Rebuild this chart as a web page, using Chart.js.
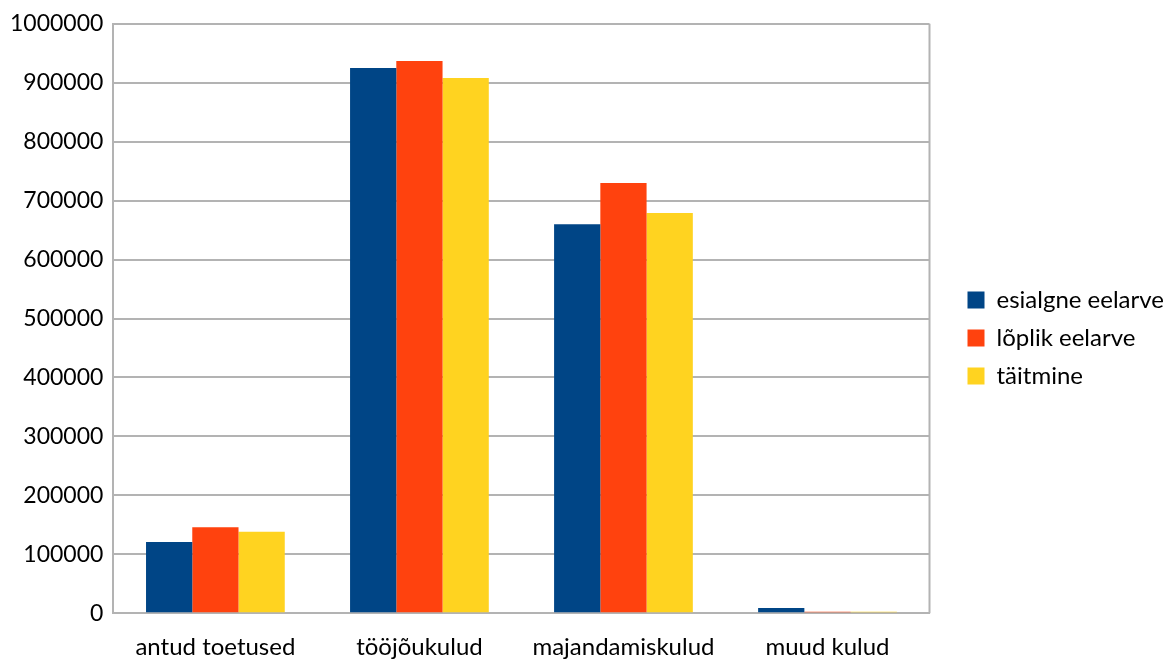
<!DOCTYPE html>
<html><head><meta charset="utf-8">
<script src="https://cdn.jsdelivr.net/npm/chart.js@4"></script>
<style>html,body{margin:0;padding:0;background:#fff}#wrap{width:1173px;height:661px}</style>
</head><body><div id="wrap"><canvas id="c" width="1173" height="661"></canvas></div>
<script>
const categories = ["antud toetused", "tööjõukulud", "majandamiskulud", "muud kulud"];
const esialgne = [121000, 925000, 660000, 9000];
const loplik = [146000, 937000, 730000, 2500];
const taitmine = [138000, 908000, 679000, 2500];
const seriesNames = ["esialgne eelarve", "lõplik eelarve", "täitmine"];
const colors = ["#004586", "#ff420e", "#ffd320"];

Chart.defaults.font.family = "Lato, 'Open Sans', sans-serif";
Chart.defaults.color = "#000";
new Chart(document.getElementById('c'), {
  type: 'bar',
  data: {
    labels: categories,
    datasets: [esialgne, loplik, taitmine].map((d, i) => ({
      label: seriesNames[i], data: d, backgroundColor: colors[i],
      categoryPercentage: 0.68, barPercentage: 1.0
    }))
  },
  options: {
    responsive: false, animation: false,
    layout: { padding: { left: 0, right: 23, top: 14, bottom: -21 } },
    plugins: {
      tooltip: { enabled: false },
      legend: {
        position: 'right',
        labels: { font: { size: 24 }, boxWidth: 17, boxHeight: 17, padding: 14, color: '#000' }
      }
    },
    scales: {
      x: {
        grid: { display: false, drawTicks: false },
        border: { color: '#b3b3b3', width: 2, z: -1 },
        ticks: { font: { size: 24 }, padding: 20 }
      },
      y: {
        min: 0, max: 1000000,
        ticks: { stepSize: 100000, font: { size: 23 }, padding: 10, callback: v => String(v) },
        grid: { color: '#b3b3b3', lineWidth: 2, drawTicks: false },
        border: { color: '#b3b3b3', width: 2 }
      }
    }
  },
  plugins: [{
    id: 'frame',
    afterLayout(chart) {
      const lg = chart.legend;
      if (lg) { lg.left += 24; lg.right += 24; lg.top -= 17; lg.bottom -= 3; }
    },
    afterDraw(chart) {
      const a = chart.chartArea, ctx = chart.ctx;
      ctx.save(); ctx.strokeStyle = '#b3b3b3'; ctx.lineWidth = 2;
      ctx.beginPath(); ctx.moveTo(a.right, a.top); ctx.lineTo(a.right, a.bottom); ctx.stroke();
      ctx.restore();
    }
  }]
});
</script></body></html>
